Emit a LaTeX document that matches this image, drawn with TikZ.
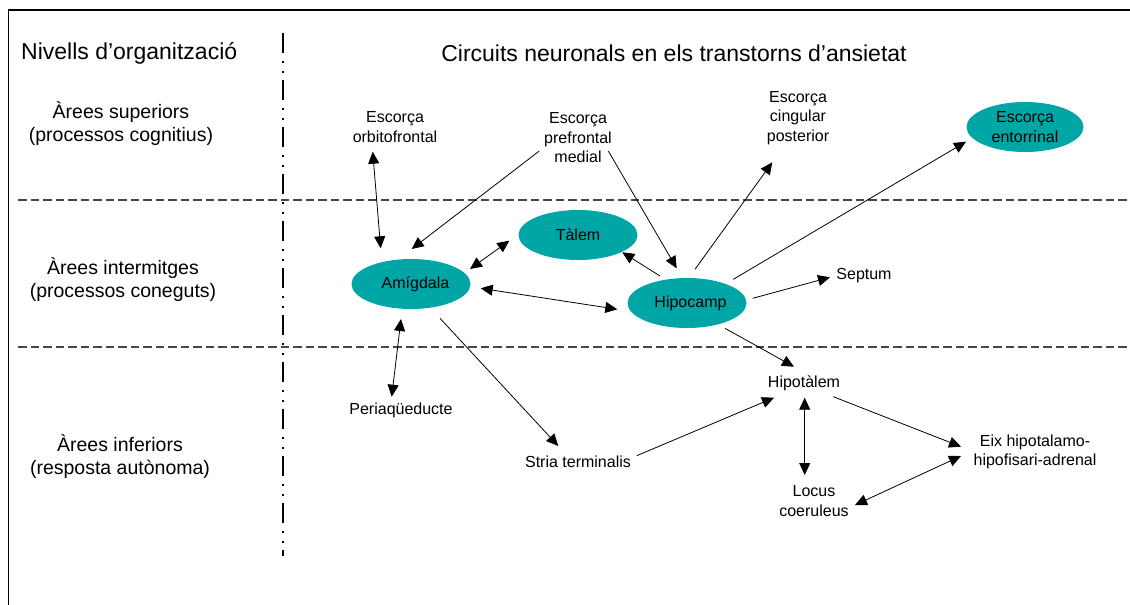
\documentclass[tikz,border=0pt]{standalone}
\usepackage{fontspec}
\setmainfont{Liberation Sans}
\usetikzlibrary{arrows.meta,calc,shapes.geometric}
\definecolor{teal1}{RGB}{0,166,166}
\definecolor{gridgray}{RGB}{70,70,70}
\begin{document}
\begin{tikzpicture}[x=1pt,y=-1pt,
  lbl/.style={align=center,font=\fontsize{16}{19.5}\selectfont,inner sep=0pt},
  side/.style={align=center,font=\fontsize{19.5}{23}\selectfont,inner sep=0pt},
  oval/.style={ellipse,fill=teal1,minimum width=119pt,minimum height=50pt,inner sep=0pt,align=center,font=\fontsize{16}{19.5}\selectfont},
  arr/.style={-{Triangle[length=12pt,width=11pt]},line width=0.8pt},
  darr/.style={{Triangle[length=12pt,width=11pt]}-{Triangle[length=12pt,width=11pt]},line width=0.8pt},
  sep/.style={gridgray,line width=1.2pt,dash pattern=on 8.5pt off 4pt}]
\useasboundingbox (0,0) rectangle (1130,605);
% frame
\draw[line width=1.6pt] (8.5,605) -- (8.5,10) -- (1130,10);
% separators
\draw[sep] (18,200) -- (1130,200);
\draw[sep] (18,347) -- (1130,347);
\draw[line width=2pt,dash pattern=on 20pt off 7.5pt on 2pt off 8pt on 2pt off 7.5pt] (283,33) -- (283,556);
% headings
\node[anchor=west,inner sep=0pt,font=\fontsize{23}{27}\selectfont] (hdl) at (21,53) {Nivells d’organització};
\node[inner sep=0pt,font=\fontsize{23}{27}\selectfont] (hdr) at (674,53) {Circuits neuronals en els transtorns d’ansietat};
\node[side] (lsup) at (121,124) {Àrees superiors\\(processos cognitius)};
\node[side] (lint) at (123,280) {Àrees intermitges\\(processos coneguts)};
\node[side] (linf) at (120,456.5) {Àrees inferiors\\(resposta autònoma)};
% nodes
\node[lbl] (orb) at (395,127) {Escorça\\orbitofrontal};
\node[lbl] (pre) at (578,138) {Escorça\\prefrontal\\medial};
\node[lbl] (cing) at (798,118) {Escorça\\cingular\\posterior};
\node[oval,minimum width=117pt] (ent) at (1025,127) {Escorça\\entorrinal};
\node[oval] (tal) at (578,235) {Tàlem};
\node[oval] (amig) at (411,284) {\hspace*{9pt}Amígdala};
\node[oval] (hip) at (687,303) {\hspace*{7pt}Hipocamp};
\node[lbl] (sept) at (864,276) {Septum};
\node[lbl] (peri) at (401,410) {Periaqüeducte};
\node[lbl] (stria) at (578,462) {Stria terminalis};
\node[lbl] (hyp) at (804,383) {Hipotàlem};
\node[lbl] (eix) at (1035,452) {Eix hipotalamo-\\hipofisari-adrenal};
\node[lbl] (loc) at (814,501) {Locus\\coeruleus};
% connectors
\draw[darr] ($(orb)+(-22.3,24.7)$) -- ($(amig)+(-30.3,-35.7)$);
\draw[arr] ($(pre)+(-38.7,13)$) -- ($(amig)+(0.7,-35)$);
\draw[arr] ($(pre)+(30.3,13)$) -- ($(hip)+(-10.3,-34.7)$);
\draw[darr] ($(amig)+(59,-15)$) -- ($(tal)+(-68.7,5.7)$);
\draw[arr] ($(hip)+(-27,-27)$) -- ($(tal)+(44.3,17.3)$);
\draw[darr] ($(amig)+(69.7,4.3)$) -- ($(hip)+(-69.7,6.3)$);
\draw[arr] ($(hip)+(8,-33.7)$) -- ($(cing)+(-25.7,44.3)$);
\draw[arr] ($(hip)+(46.3,-23.7)$) -- ($(ent)+(-59,14.7)$);
\draw[arr] ($(hip)+(65.7,-4.7)$) -- ($(sept)+(-34,1.3)$);
\draw[darr] ($(amig)+(-10,35)$) -- ($(peri)+(-9.3,-13.3)$);
\draw[arr] ($(amig)+(29,34.3)$) -- ($(stria)+(-19.7,-16)$);
\draw[arr] ($(stria)+(58.7,-6.3)$) -- ($(hyp)+(-30,14.7)$);
\draw[arr] ($(hip)+(38,25.3)$) -- ($(hyp)+(-10,-16.3)$);
\draw[darr] ($(hyp)+(0.7,14.7)$) -- ($(loc)+(-9.3,-26)$);
\draw[arr] ($(hyp)+(29.3,13.7)$) -- ($(eix)+(-74,-5.3)$);
\draw[darr] ($(loc)+(41,4)$) -- ($(eix)+(-74,4)$);
\end{tikzpicture}
\end{document}
